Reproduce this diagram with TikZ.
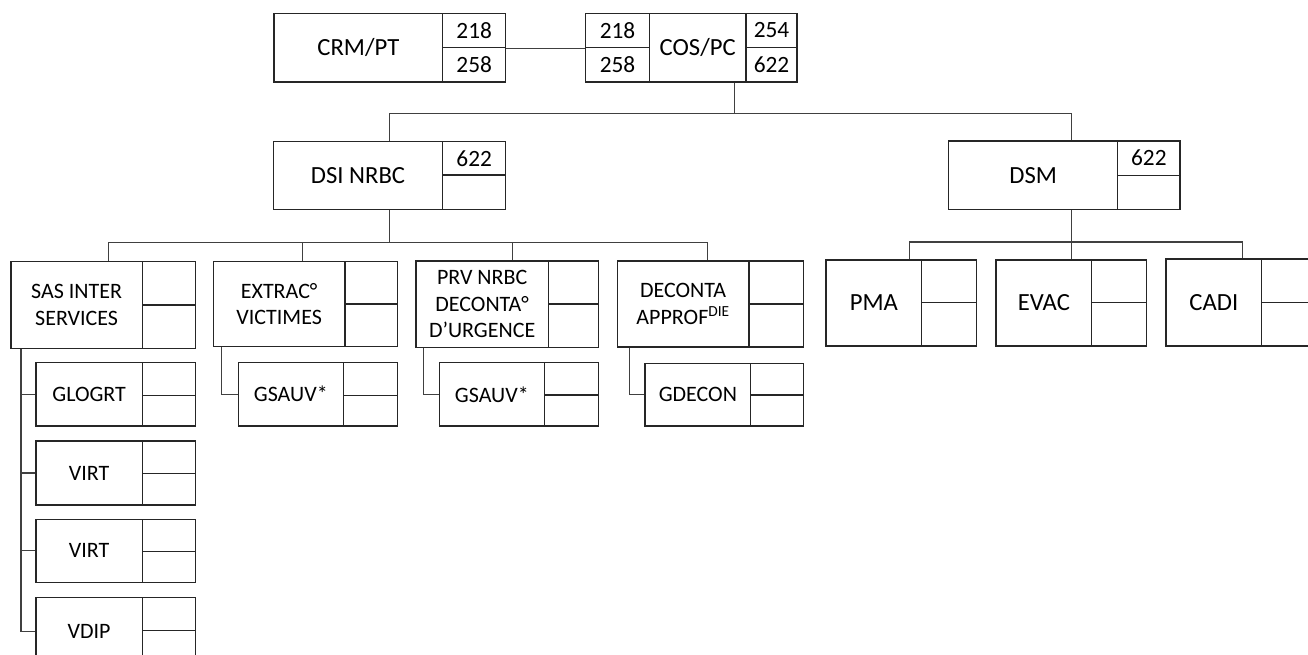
\documentclass[tikz,border=0pt]{standalone}
\usepackage{fontspec}
\setmainfont{Carlito}
\usetikzlibrary{fit}
\tikzset{
 boxst/.style={draw=black!85, line width=0.8pt, inner sep=0pt},
 labA/.style={font=\fontsize{18.5}{22}\selectfont, inner sep=0pt, text=black},
 labB/.style={font=\fontsize{16.5}{20}\selectfont, inner sep=0pt, text=black},
 numf/.style={font=\fontsize{17.5}{21}\selectfont, inner sep=0pt, text=black},
 conn/.style={draw=black!75, line width=0.8pt},
}
\newcommand{\ubox}[8]{%
 \coordinate (#1-nw) at (#2); \coordinate (#1-m) at (#3); \coordinate (#1-se) at (#4);
 \node[boxst,fit={(#1-nw) (#1-m |- #1-se)}] (#1) {};
 \node[boxst,fit={(#1-m |- #1-nw) (#1-se |- #1-m)}] (#1-t) {};
 \node[boxst,fit={(#1-m) (#1-se)}] (#1-b) {};
 \node[#8] (#1-l) at (#1.center) {#5};
 \node[numf] (#1-tl) at (#1-t.center) {#6};
 \node[numf] (#1-bl) at (#1-b.center) {#7};
}
\begin{document}
\begin{tikzpicture}[x=0.75pt,y=-0.75pt]
\useasboundingbox (0,0) rectangle (1308,655);
\clip (0,0) rectangle (1308,655);
% top row
\ubox{crm}{274,13.3}{442.7,47.7}{505.7,82}{CRM/PT}{218}{258}{labA}
\ubox{cos}{649.3,13.3}{746,47.7}{797,82}{COS/PC}{254}{622}{labA}
\coordinate (cl-nw) at (585.7,13.3); \coordinate (cl-se) at (649.3,82);
\node[boxst,fit={(cl-nw) (cos-m -| cl-se)}] (cosl-t) {};
\node[boxst,fit={(cl-nw |- cos-m) (cl-se)}] (cosl-b) {};
\node[numf] (cosl-tl) at (cosl-t.center) {218};
\node[numf] (cosl-bl) at (cosl-b.center) {258};
\draw[conn] (crm-t.south east) -- (cosl-t.south west);
% level 2
\ubox{dsi}{273.3,141.7}{442.7,175}{505.7,209.3}{DSI NRBC}{622}{}{labA}
\ubox{dsm}{948.7,141}{1117.7,175.3}{1180,209.3}{DSM}{622}{}{labA}
\coordinate (j1) at (734.3,113.3);
\coordinate (xa) at (389.3,0); \coordinate (xb) at (1071.3,0);
\draw[conn] (cos.south -| j1) -- (j1);
\draw[conn] (dsi.north -| xa) |- (j1) -| (dsm.north -| xb);
% level 3
\ubox{sas}{11,261.7}{142.3,305}{195.7,348.3}{SAS INTER\\SERVICES}{}{}{labB,align=center}
\ubox{ext}{213.3,261.7}{345,304}{397.3,346.7}{EXTRAC°\\VICTIMES}{}{}{labB,align=center}
\ubox{prv}{416,261}{548.3,304}{598.3,347.3}{PRV NRBC\\DECONTA°\\D’URGENCE}{}{}{labB,align=center}
\ubox{dec}{617.3,261}{749,304}{803.3,347}{DECONTA\\APPROF\textsuperscript{DIE}}{}{}{labB,align=center}
\ubox{pma}{826,260}{921.7,302.7}{976.7,346}{PMA}{}{}{labA}
\ubox{evac}{996,260}{1091.7,302.7}{1146.7,346}{EVAC}{}{}{labA}
\ubox{cadi}{1166,259}{1261.7,302.7}{1316.7,346}{CADI}{}{}{labA}
\coordinate (j2) at (389.3,242.7);
\coordinate (xs) at (108.3,0); \coordinate (xe) at (302.7,0);
\coordinate (xp) at (512.7,0); \coordinate (xd) at (707.7,0);
\draw[conn] (dsi.south -| j2) -- (j2);
\draw[conn] (sas.north -| xs) |- (j2) -| (dec.north -| xd);
\draw[conn] (ext.north -| xe) -- (xe |- j2);
\draw[conn] (prv.north -| xp) -- (xp |- j2);
\coordinate (j3) at (1071.3,242);
\coordinate (xpm) at (909.3,0); \coordinate (xca) at (1242.7,0);
\draw[conn] (dsm.south -| j3) -- (j3);
\draw[conn] (pma.north -| xpm) |- (j3) -| (cadi.north -| xca);
\draw[conn] (evac.north -| j3) -- (j3);
% level 4
\ubox{glogrt}{36,362.3}{142.3,395.7}{195.7,426}{GLOGRT}{}{}{labB}
\ubox{virta}{36,441}{142.3,473.3}{195.7,505}{VIRT}{}{}{labB}
\ubox{virtb}{36,519.3}{142.3,551.7}{195.7,582.3}{VIRT}{}{}{labB}
\ubox{vdip}{36,597.7}{142.3,630.7}{195.7,665}{VDIP}{}{}{labB}
\ubox{gsa}{238.3,362.3}{343.3,395.7}{397.3,426}{GSAUV*}{}{}{labB}
\ubox{gsb}{439.3,362.7}{544.3,395}{598.3,426}{GSAUV*}{}{}{labB}
\ubox{gdec}{645,363.3}{750.7,395}{803.3,426}{GDECON}{}{}{labB}
\coordinate (xl) at (21,0);
\coordinate (xg1) at (221.7,0); \coordinate (xg2) at (423.3,0); \coordinate (xg3) at (629.3,0);
\draw[conn] (sas.south -| xl) |- (vdip.west);
\draw[conn] (xl |- glogrt.west) -- (glogrt.west);
\draw[conn] (xl |- virta.west) -- (virta.west);
\draw[conn] (xl |- virtb.west) -- (virtb.west);
\draw[conn] (ext.south -| xg1) |- (gsa.west);
\draw[conn] (prv.south -| xg2) |- (gsb.west);
\draw[conn] (dec.south -| xg3) |- (gdec.west);
\end{tikzpicture}
\end{document}
